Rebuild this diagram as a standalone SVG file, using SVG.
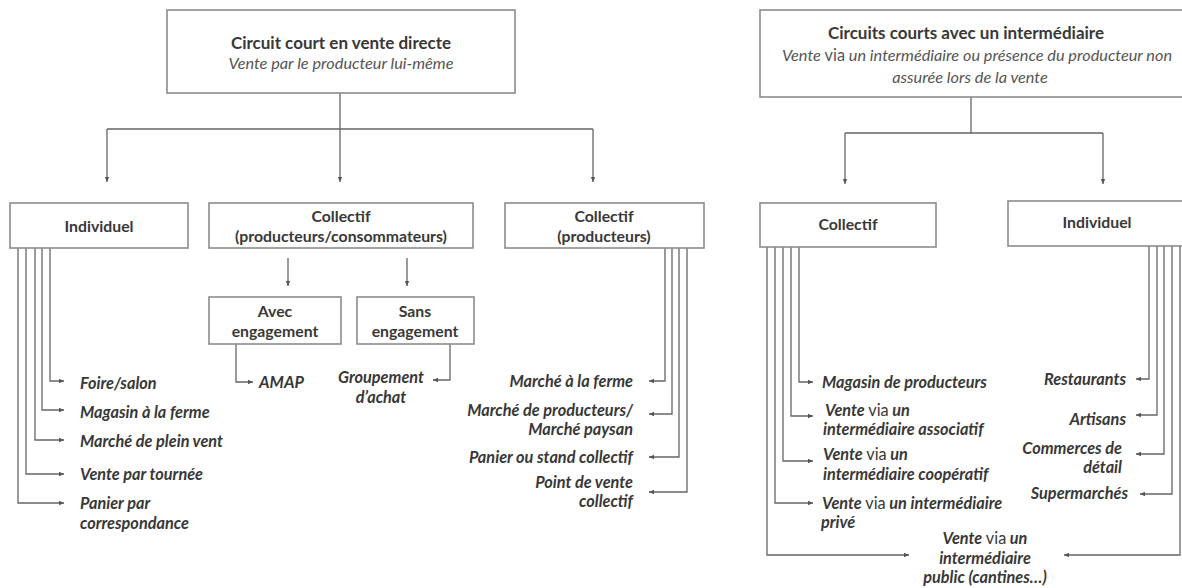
<svg xmlns="http://www.w3.org/2000/svg" width="1182" height="588" viewBox="0 0 1182 588">
<defs>
<marker id="ah" markerWidth="6" markerHeight="6" refX="5" refY="3" orient="auto" markerUnits="userSpaceOnUse">
<path d="M0,0.8 L5,3 L0,5.2 Z" fill="#555"/>
</marker>
<style>
.box{fill:#fff;stroke:#8c8c8c;stroke-width:1.6}
.ln{fill:none;stroke:#666;stroke-width:1.3}
.ar{fill:none;stroke:#666;stroke-width:1.3;marker-end:url(#ah)}
text{font-family:Lato,"Liberation Sans",sans-serif;fill:#383838}
.t{font-weight:bold;font-size:17px;text-anchor:middle}
.s{font-style:italic;font-size:16.3px;text-anchor:middle;fill:#555}
.h{font-weight:bold;font-size:15.8px;text-anchor:middle}
.i{font-weight:bold;font-style:italic;font-size:16.3px}
.r{text-anchor:end}
.m{text-anchor:middle}
.v{font-style:normal;font-weight:normal}
</style>
</defs>
<rect width="1182" height="588" fill="#fff"/>

<g id="connectors">
<path class="ln" d="M340,93 V129 M107,129 H593"/>
<path class="ar" d="M107,129 V182"/>
<path class="ar" d="M340,129 V182"/>
<path class="ar" d="M593,129 V182"/>
<path class="ar" d="M288,258 V286"/>
<path class="ar" d="M407,258 V286"/>
<path class="ar" d="M236,344 V382 H253"/>
<path class="ar" d="M450,344 V380 H433"/>
<path class="ar" d="M50,248 V381 H64"/>
<path class="ar" d="M42,248 V410 H64"/>
<path class="ar" d="M35,248 V440 H64"/>
<path class="ar" d="M26,248 V474 H64"/>
<path class="ar" d="M18,248 V503 H64"/>
<path class="ar" d="M665,248 V381 H649"/>
<path class="ar" d="M672,248 V414 H649"/>
<path class="ar" d="M679,248 V457 H649"/>
<path class="ar" d="M687,248 V492 H649"/>
<path class="ln" d="M971,97 V133 M845,133 H1103"/>
<path class="ar" d="M845,133 V184"/>
<path class="ar" d="M1103,133 V184"/>
<path class="ar" d="M799,247 V382 H813"/>
<path class="ar" d="M791,247 V416 H813"/>
<path class="ar" d="M783,247 V461 H813"/>
<path class="ar" d="M775,247 V503 H813"/>
<path class="ar" d="M767,247 V555 H909"/>
<path class="ar" d="M1149,246 V379 H1136"/>
<path class="ar" d="M1157,246 V415 H1136"/>
<path class="ar" d="M1164,246 V454 H1136"/>
<path class="ar" d="M1172,246 V494 H1140"/>
<path class="ar" d="M1180,246 V555 H1064"/>
</g>

<g id="vente-directe">
<rect class="box" x="167" y="10" width="348" height="83"/>
<text class="t" x="341" y="49">Circuit court en vente directe</text>
<text class="s" x="341" y="69">Vente par le producteur lui-même</text>
</g>

<g id="intermediaire">
<rect class="box" x="760" y="10" width="430" height="87"/>
<text class="t" x="966" y="39">Circuits courts avec un intermédiaire</text>
<text class="s" x="977" y="61">Vente <tspan class="v">via</tspan> un intermédiaire ou présence du producteur non</text>
<text class="s" x="970" y="83">assurée lors de la vente</text>
</g>

<g id="individuel">
<rect class="box" x="10" y="203" width="178" height="45"/>
<text class="h" x="99" y="232">Individuel</text>
</g>

<g id="collectif-pc">
<rect class="box" x="209" y="203" width="264" height="45"/>
<text class="h" x="341" y="222">Collectif</text>
<text class="h" x="341" y="242">(producteurs/consommateurs)</text>
</g>

<g id="collectif-p">
<rect class="box" x="505" y="203" width="199" height="45"/>
<text class="h" x="604" y="222">Collectif</text>
<text class="h" x="604" y="242">(producteurs)</text>
</g>

<g id="avec">
<rect class="box" x="209" y="297" width="132" height="47"/>
<text class="h" x="275" y="317">Avec</text>
<text class="h" x="275" y="337">engagement</text>
</g>

<g id="sans">
<rect class="box" x="357" y="297" width="117" height="47"/>
<text class="h" x="415" y="317">Sans</text>
<text class="h" x="415" y="337">engagement</text>
</g>

<g id="collectif-r">
<rect class="box" x="760" y="203" width="176" height="44"/>
<text class="h" x="848" y="230">Collectif</text>
</g>

<g id="individuel-r">
<rect class="box" x="1008" y="201" width="182" height="45"/>
<text class="h" x="1097" y="228">Individuel</text>
</g>

<g id="items-left">
<text class="i" x="80" y="389">Foire/salon</text>
<text class="i" x="80" y="418">Magasin à la ferme</text>
<text class="i" x="80" y="447">Marché de plein vent</text>
<text class="i" x="80" y="480">Vente par tournée</text>
<text class="i" x="80" y="509">Panier par</text>
<text class="i" x="80" y="529">correspondance</text>
<text class="i" x="259" y="388">AMAP</text>
<text class="i m" x="381" y="383">Groupement</text>
<text class="i m" x="381" y="403">d’achat</text>
<text class="i r" x="633" y="387">Marché à la ferme</text>
<text class="i r" x="633" y="416">Marché de producteurs/</text>
<text class="i r" x="633" y="435">Marché paysan</text>
<text class="i r" x="633" y="463">Panier ou stand collectif</text>
<text class="i r" x="633" y="488">Point de vente</text>
<text class="i r" x="633" y="507">collectif</text>
</g>

<g id="items-right">
<text class="i" x="822" y="388">Magasin de producteurs</text>
<text class="i" x="825" y="416">Vente <tspan class="v">via</tspan> un</text>
<text class="i" x="823" y="435">intermédiaire associatif</text>
<text class="i" x="823" y="460">Vente <tspan class="v">via</tspan> un</text>
<text class="i" x="823" y="480">intermédiaire coopératif</text>
<text class="i" x="822" y="509">Vente  <tspan class="v">via</tspan> un intermédiaire</text>
<text class="i" x="821" y="528">privé</text>
<text class="i m" x="985" y="544">Vente <tspan class="v">via</tspan> un</text>
<text class="i m" x="985" y="564">intermédiaire</text>
<text class="i m" x="985" y="583">public (cantines…)</text>
<text class="i r" x="1126" y="385">Restaurants</text>
<text class="i r" x="1126" y="425">Artisans</text>
<text class="i r" x="1122" y="454">Commerces de</text>
<text class="i r" x="1122" y="473">détail</text>
<text class="i r" x="1128" y="499">Supermarchés</text>
</g>
</svg>
